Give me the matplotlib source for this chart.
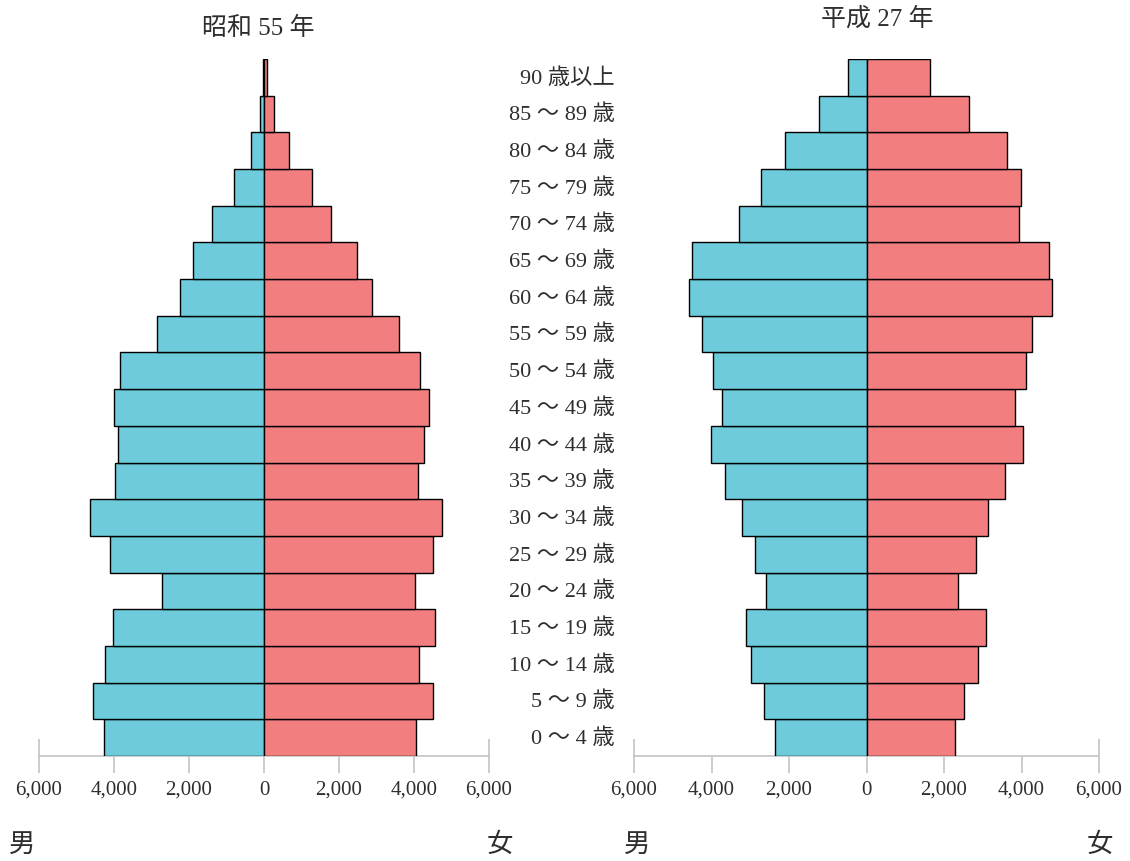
import numpy as np
import matplotlib
matplotlib.use("Agg")
import matplotlib.pyplot as plt
from matplotlib.ticker import FuncFormatter, FixedLocator
from matplotlib.transforms import blended_transform_factory

plt.rcParams['font.family'] = ['Liberation Serif', 'Noto Sans CJK JP', 'DejaVu Sans']

# Age groups, youngest first
ages = ["0 ～ 4 歳", "5 ～ 9 歳", "10 ～ 14 歳", "15 ～ 19 歳", "20 ～ 24 歳",
        "25 ～ 29 歳", "30 ～ 34 歳", "35 ～ 39 歳", "40 ～ 44 歳", "45 ～ 49 歳",
        "50 ～ 54 歳", "55 ～ 59 歳", "60 ～ 64 歳", "65 ～ 69 歳", "70 ～ 74 歳",
        "75 ～ 79 歳", "80 ～ 84 歳", "85 ～ 89 歳", "90 歳以上"]

# 昭和55年
s55_male = [4270, 4565, 4230, 4015, 2720, 4110, 4630, 3960, 3890, 3990,
            3830, 2857, 2227, 1906, 1399, 812, 347, 117, 35]
s55_female = [4050, 4510, 4145, 4565, 4020, 4510, 4750, 4100, 4270, 4395,
              4155, 3613, 2874, 2473, 1789, 1271, 667, 267, 80]

# 平成27年
h27_male = [2373, 2657, 2975, 3113, 2588, 2872, 3207, 3654, 4024, 3723,
            3964, 4239, 4583, 4514, 3293, 2726, 2107, 1221, 473]
h27_female = [2287, 2511, 2880, 3095, 2365, 2820, 3138, 3568, 4041, 3835,
              4119, 4273, 4798, 4712, 3938, 3998, 3620, 2648, 1642]

titles = ["昭和 55 年", "平成 27 年"]
ticks = [-6000, -4000, -2000, 0, 2000, 4000, 6000]

male_color = "#6dcbdb"
female_color = "#f37e7f"
axis_gray = "#c4c4c4"
text_color = "#2e2e2e"

fig = plt.figure(figsize=(11.3, 8.62), dpi=100)
ax1 = fig.add_axes([39 / 1130, 1 - 757 / 862, 450 / 1130, 697 / 862])
ax2 = fig.add_axes([634 / 1130, 1 - 757 / 862, 465 / 1130, 697 / 862])

y = np.arange(len(ages))
fmt = FuncFormatter(lambda v, p: f"{abs(int(v)):,}")

for ax, male, female in [(ax1, s55_male, s55_female), (ax2, h27_male, h27_female)]:
    ax.barh(y, -np.array(male), height=1, color=male_color,
            edgecolor="black", linewidth=1)
    ax.barh(y, female, height=1, color=female_color,
            edgecolor="black", linewidth=1)
    ax.set_xlim(-6000, 6000)
    ax.set_ylim(-0.5, len(ages) - 0.5)
    for s in ["top", "left", "right"]:
        ax.spines[s].set_visible(False)
    ax.spines["bottom"].set_color(axis_gray)
    ax.spines["bottom"].set_linewidth(1.2)
    ax.spines["bottom"].set_zorder(0)
    ax.set_yticks([])
    ax.xaxis.set_major_locator(FixedLocator(ticks[1:-1]))
    ax.xaxis.set_minor_locator(FixedLocator([ticks[0], ticks[-1]]))
    ax.xaxis.set_major_formatter(fmt)
    ax.xaxis.set_minor_formatter(fmt)
    ax.tick_params(axis="x", which="major", direction="out", length=12,
                   width=1.2, color=axis_gray, pad=5, labelsize=15,
                   labelcolor=text_color)
    ax.tick_params(axis="x", which="minor", direction="inout", length=24,
                   width=1.2, color=axis_gray, pad=5, labelsize=15,
                   labelcolor=text_color)

fig.text(258 / 1130, 1 - 28 / 862, titles[0], ha="center", va="center",
         fontsize=18, color=text_color)
fig.text(877 / 1130, 1 - 19 / 862, titles[1], ha="center", va="center",
         fontsize=18, color=text_color)

trans = blended_transform_factory(fig.transFigure, ax1.transData)
for i, lab in enumerate(ages):
    ax1.text(615 / 1130, y[i], lab, transform=trans, ha="right", va="center",
             fontsize=16, color=text_color, clip_on=False)

for xpos, lab in [(22, "男"), (500, "女"), (637, "男"), (1100, "女")]:
    fig.text(xpos / 1130, 1 - 845 / 862, lab, ha="center", va="center",
             fontsize=19, color=text_color)

fig.savefig("out.png", dpi=100)
